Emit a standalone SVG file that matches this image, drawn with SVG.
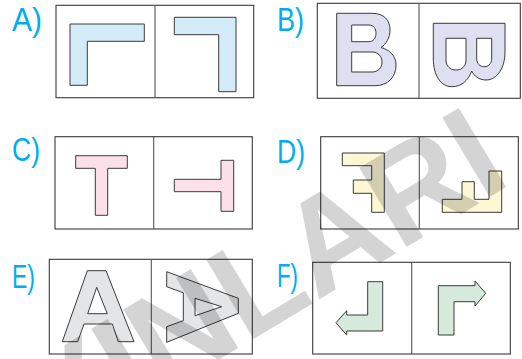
<svg xmlns="http://www.w3.org/2000/svg" width="522" height="359" viewBox="0 0 522 359">
<style>
.lbl{font-family:"Liberation Sans","Open Sans",sans-serif;font-size:34px;fill:#00aeef}
.box{fill:#fff;stroke:#3a3a3a;stroke-width:1.1}
.div{stroke:#555;stroke-width:1.1}
.sh{stroke:#3a3a3a;stroke-width:1;stroke-linejoin:miter}
.blue{fill:#d4ebf8}.lav{fill:#dedff0;fill-rule:evenodd}.pink{fill:#fbe0ea}.yel{fill:#fdf8d3}.gry{fill:#e4e5e7;fill-rule:evenodd}.grn{fill:#d6eadc}
.wm{font-family:"Liberation Sans",sans-serif;font-weight:bold;font-size:134px;fill:#000;fill-opacity:0.17}
</style>
<g id="optA">
<text class="lbl" x="12" y="30.5" textLength="30" lengthAdjust="spacingAndGlyphs">A)</text>
<rect class="box" x="56" y="5.3" width="197.7" height="92.4"/>
<line class="div" x1="155" y1="5.3" x2="155" y2="97.7"/>
<path class="sh blue" d="M70,24 H144.3 V41.3 H87.3 V85.3 H70 Z"/>
<path class="sh blue" d="M174.3,17.3 H236 V91.7 H218.7 V34.7 H174.3 Z"/>
</g>
<g id="optB">
<text class="lbl" x="277" y="31" textLength="27" lengthAdjust="spacingAndGlyphs">B)</text>
<rect class="box" x="317.3" y="3.3" width="203" height="95"/>
<line class="div" x1="419" y1="3.3" x2="419" y2="98.3"/>
<path class="sh lav" d="M336.7,13.3 H372 C384,13.3 390,20 390,30 C390,38 386,44 381,47.5 C390,50 396,56 396,65 C396,77 388,85.7 375,85.7 H336.7 Z M351.7,25 H369 C373.5,25 376,28.5 376,33.3 C376,38.5 373,41.7 369,41.7 H351.7 Z M351.7,52 H372 C378,52 382,56 382,62 C382,68 378,72 372,72 H351.7 Z"/>
<path class="sh lav" d="M433.3,23.3 H505 V52 C505,68 497,80 486,80 C479,80 474,76 471.7,71 C468,81 461,86.7 452,86.7 C441,86.7 433.3,76 433.3,58 Z M446,38.3 H466 V60 C466,66 462,70 456,70 C450,70 446,66 446,60 Z M476.7,38.3 H491.7 V59 C491.7,63.5 488.5,66.7 484.2,66.7 C479.9,66.7 476.7,63.5 476.7,59 Z"/>
</g>
<g id="optC">
<text class="lbl" x="12" y="161" textLength="28" lengthAdjust="spacingAndGlyphs">C)</text>
<rect class="box" x="55" y="136.7" width="197.3" height="92.3"/>
<line class="div" x1="153.7" y1="136.7" x2="153.7" y2="229"/>
<path class="sh pink" d="M75.7,155.7 H127.3 V168.3 H107.7 V215.3 H95.3 V168.3 H75.7 Z"/>
<path class="sh pink" d="M221,160.3 H233.7 V211.3 H221 V191.7 H174.3 V179.3 H221 Z"/>
</g>
<g id="optD">
<text class="lbl" x="277" y="163" textLength="28" lengthAdjust="spacingAndGlyphs">D)</text>
<rect class="box" x="320.7" y="136.7" width="197.6" height="92.3"/>
<line class="div" x1="419.3" y1="136.7" x2="419.3" y2="229"/>
<path class="sh yel" d="M342.3,153 H384.3 V212.3 H371.7 V193.3 H353.3 V180 H371.7 V165.7 H342.3 Z"/>
<path class="sh yel" d="M442.3,212.3 H501.7 V171 H489 V199.3 H474.3 V181.7 H462 V199.3 H442.3 Z"/>
</g>
<g id="optE">
<text class="lbl" x="12" y="288" textLength="23" lengthAdjust="spacingAndGlyphs">E)</text>
<rect class="box" x="49.3" y="259.3" width="203" height="94.7"/>
<line class="div" x1="151.3" y1="259.3" x2="151.3" y2="354"/>
<path class="sh gry" d="M87.3,270.7 H106 L134,341.7 H118.3 L112.3,324 H84 L77.7,341.7 H62.3 Z M96.7,287.3 L87.7,313.7 H107.3 Z"/>
<path class="sh gry" d="M166.7,271.7 L238.3,298.3 V313.3 L166.7,342.3 V326.7 L183.3,320.7 V292.7 L166.7,286.7 Z M195,298.3 L221.7,306.7 L195,315.7 Z"/>
</g>
<g id="optF">
<text class="lbl" x="277" y="287" textLength="21" lengthAdjust="spacingAndGlyphs">F)</text>
<rect class="box" x="312.7" y="262.3" width="197.6" height="91.7"/>
<line class="div" x1="411.7" y1="262.3" x2="411.7" y2="354"/>
<path class="sh grn" d="M382.7,281.7 V331 H346.7 V335 L336,322.7 L346.7,310.7 V315 H367.7 V281.7 Z"/>
<path class="sh grn" d="M438.3,335 V285.7 H475 V281 L485.7,293.3 L475,306 V301.7 H454 V335 Z"/>
</g>
<text class="wm" transform="translate(498,192) rotate(-31)" x="18.6" y="0" text-anchor="end">YAYINLARI</text>
</svg>
